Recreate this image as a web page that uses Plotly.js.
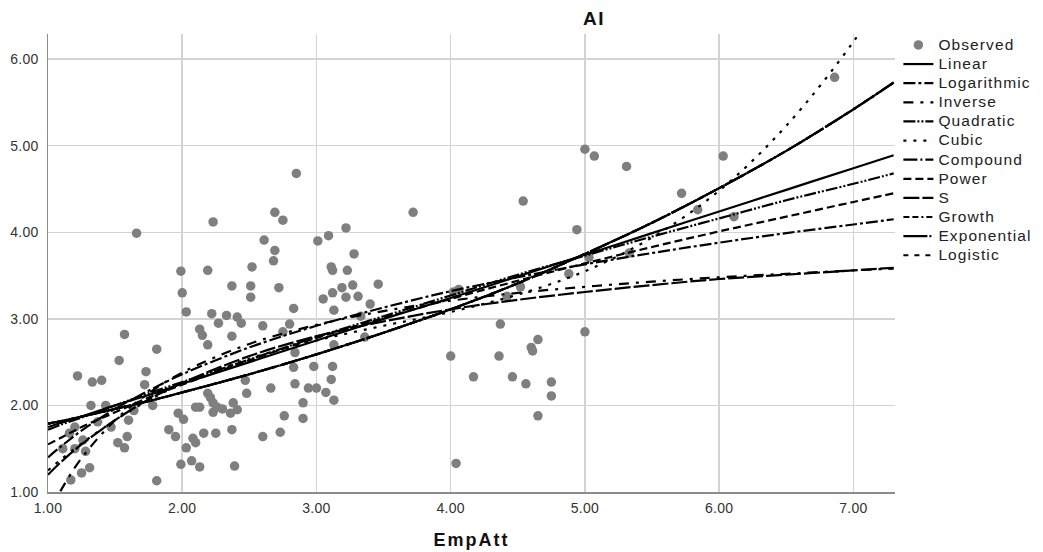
<!DOCTYPE html>
<html>
<head>
<meta charset="utf-8">
<script src="https://cdn.plot.ly/plotly-3.0.1.min.js"></script>
<style>
  html, body { margin: 0; padding: 0; background: #ffffff; }
  #chart { width: 1043px; height: 552px; }
  #chart .legendtext { font-size: 15.5px !important; letter-spacing: 1.1px; }
  #chart .legend .scrollbox, #chart .legend g { clip-path: none !important; }
  #chart .xtick text, #chart .ytick text { letter-spacing: 0.3px; }
  #chart .gtitle { letter-spacing: 1.5px; }
  #chart .xtitle { letter-spacing: 2px; }
</style>
</head>
<body>
<div id="chart"></div>
<script>
// Observed points (EmpAtt, AI)
const obsX = [1.66,1.99,2.00,2.03,1.57,1.81,1.53,1.73,1.22,1.33,1.40,1.72,1.32,1.43,1.78,1.64,1.97,2.01,1.60,1.37,
  1.47,1.20,1.90,1.16,1.59,1.95,1.52,1.26,1.57,1.11,1.20,1.28,2.03,1.99,1.31,1.25,1.17,1.81,
  2.85,2.69,2.75,2.23,2.61,3.01,2.69,2.68,2.19,2.52,2.37,2.51,2.72,2.51,2.83,2.22,2.33,2.41,2.27,2.44,2.60,2.80,
  2.13,2.15,2.37,2.75,2.19,2.84,2.83,2.98,2.47,2.48,2.66,2.84,2.94,3.00,2.90,2.90,2.76,2.73,2.60,2.37,2.25,2.16,
  2.08,2.10,2.07,2.13,2.39,2.10,2.13,2.19,2.21,2.23,2.26,2.30,2.23,2.38,2.41,2.36,
  3.72,3.22,3.09,3.28,3.11,3.12,3.23,3.27,3.46,3.12,3.19,3.22,3.31,3.05,3.40,3.13,3.33,3.36,3.13,3.12,3.11,3.07,3.13,
  5.00,5.07,5.31,6.03,4.54,5.72,5.84,6.11,4.94,4.02,4.06,4.42,4.52,4.88,5.03,5.33,4.37,5.00,4.65,4.60,4.61,4.00,4.36,
  4.17,4.46,4.56,4.75,4.75,4.65,4.04,6.86];
const obsY = [3.99,3.55,3.30,3.08,2.82,2.65,2.52,2.39,2.34,2.27,2.29,2.24,2.00,2.00,2.00,1.94,1.91,1.84,1.83,1.81,
  1.75,1.75,1.72,1.68,1.64,1.64,1.57,1.60,1.51,1.50,1.50,1.47,1.51,1.32,1.28,1.22,1.14,1.13,
  4.68,4.23,4.14,4.12,3.91,3.90,3.79,3.67,3.56,3.60,3.38,3.38,3.36,3.25,3.12,3.06,3.04,3.02,2.95,2.95,2.92,2.94,
  2.88,2.81,2.80,2.85,2.70,2.61,2.44,2.45,2.29,2.14,2.20,2.25,2.20,2.20,2.03,1.85,1.88,1.69,1.64,1.72,1.68,1.68,
  1.62,1.57,1.36,1.29,1.30,1.98,1.98,2.14,2.09,2.03,1.98,1.96,1.92,2.03,1.95,1.91,
  4.23,4.05,3.96,3.75,3.60,3.56,3.56,3.39,3.40,3.30,3.36,3.25,3.26,3.23,3.17,3.10,3.03,2.79,2.70,2.45,2.30,2.15,2.06,
  4.96,4.88,4.76,4.88,4.36,4.45,4.26,4.18,4.03,3.31,3.34,3.26,3.37,3.52,3.71,3.76,2.94,2.85,2.76,2.67,2.63,2.57,2.57,
  2.33,2.33,2.25,2.27,2.11,1.88,1.33,5.79];

// Fitted curves at these EmpAtt values
const fitX        = [1.00,1.10,1.25,1.50,1.75,2.00,2.50,3.00,3.50,4.00,4.50,5.00,5.50,6.00,6.50,7.00,7.30];
const linearY     = [1.75,1.80,1.87,2.00,2.12,2.25,2.50,2.75,3.00,3.24,3.49,3.74,3.99,4.24,4.49,4.74,4.89];
const logarithmicY= [1.40,1.53,1.71,1.96,2.17,2.36,2.67,2.92,3.13,3.32,3.48,3.63,3.76,3.88,3.99,4.09,4.15];
const inverseY    = [0.73,1.03,1.39,1.83,2.14,2.38,2.71,2.93,3.09,3.21,3.30,3.37,3.43,3.48,3.52,3.56,3.58];
const quadraticY  = [1.72,1.78,1.86,2.00,2.14,2.27,2.53,2.79,3.03,3.27,3.51,3.73,3.95,4.16,4.37,4.56,4.68];
const cubicY      = [1.25,1.38,1.56,1.83,2.06,2.25,2.54,2.75,2.92,3.08,3.28,3.55,3.94,4.48,5.23,6.20,6.91];
const compoundY   = [1.79,1.82,1.87,1.96,2.05,2.15,2.36,2.59,2.84,3.11,3.41,3.75,4.11,4.51,4.94,5.42,5.73];
const powerY      = [1.55,1.63,1.75,1.92,2.09,2.24,2.52,2.78,3.01,3.23,3.44,3.64,3.83,4.01,4.18,4.35,4.45];
const sCurveY     = [1.20,1.35,1.55,1.83,2.07,2.26,2.57,2.80,2.97,3.11,3.22,3.31,3.39,3.46,3.51,3.56,3.59];
const growthY     = [1.79,1.82,1.87,1.96,2.05,2.15,2.36,2.59,2.84,3.11,3.41,3.75,4.11,4.51,4.94,5.42,5.73];
const exponentialY= [1.79,1.82,1.87,1.96,2.05,2.15,2.36,2.59,2.84,3.11,3.41,3.75,4.11,4.51,4.94,5.42,5.73];
const logisticY   = [1.79,1.82,1.87,1.96,2.05,2.15,2.36,2.59,2.84,3.11,3.41,3.75,4.11,4.51,4.94,5.42,5.73];

const xTicks = [1,2,3,4,5,6,7];
const xTickLabels = ["1.00","2.00","3.00","4.00","5.00","6.00","7.00"];
const yTicks = [1,2,3,4,5,6];
const yTickLabels = ["1.00","2.00","3.00","4.00","5.00","6.00"];

const FONT = "Arial, 'Liberation Sans', Helvetica, sans-serif";

function fit(name, ys, dash) {
  return {
    type: "scatter", mode: "lines", name: name, x: fitX, y: ys,
    line: { color: "#000000", width: 2.2, dash: dash, shape: "spline" },
    hoverinfo: "skip"
  };
}

const traces = [
  { type: "scatter", mode: "markers", name: "Observed", x: obsX, y: obsY,
    marker: { color: "#7f7f7f", size: 9.5, line: { width: 0 } } },
  fit("Linear", linearY, "solid"),
  fit("Logarithmic", logarithmicY, "12px,3px,3px,3px"),
  fit("Inverse", inverseY, "10px,7px,3px,7px"),
  fit("Quadratic", quadraticY, "12px,2px,2px,2px,2px,2px"),
  fit("Cubic", cubicY, "3px,7px"),
  fit("Compound", compoundY, "14px,3px,2px,3px"),
  fit("Power", powerY, "8px,4px"),
  fit("S", sCurveY, "16px,3px"),
  fit("Growth", growthY, "6px,3px,6px,3px,2px,3px"),
  fit("Exponential", exponentialY, "24px,2px,2px,2px"),
  fit("Logistic", logisticY, "5px,6px")
];

const layout = {
  width: 1043, height: 552,
  margin: { l: 48, r: 148, t: 34, b: 60, pad: 0 },
  paper_bgcolor: "#ffffff", plot_bgcolor: "#ffffff",
  font: { family: FONT, color: "#222222", size: 13 },
  title: { text: "<b>AI</b>", font: { family: FONT, size: 19, color: "#111111" },
           x: 0.6446, xref: "paper", xanchor: "center", y: 0.967, yref: "container", yanchor: "middle" },
  showlegend: true,
  legend: { x: 1.004, xanchor: "left", y: 1.0079, yanchor: "top", bgcolor: "rgba(0,0,0,0)",
            font: { family: FONT, size: 12.4, color: "#222222" }, itemwidth: 30, tracegroupgap: 0 },
  xaxis: {
    range: [1, 7.31], tickvals: xTicks, ticktext: xTickLabels,
    showgrid: true, gridcolor: "#d3d3d3", gridwidth: 1.5,
    showline: true, linecolor: "#8c8c8c", linewidth: 1.5, zeroline: false,
    ticks: "", ticklabelstandoff: 3, tickfont: { family: FONT, size: 14, color: "#333333" },
    title: { text: "<b>EmpAtt</b>", font: { family: FONT, size: 18, color: "#111111" }, standoff: 18 }
  },
  yaxis: {
    range: [1, 6.29], tickvals: yTicks, ticktext: yTickLabels,
    showgrid: true, gridcolor: "#d3d3d3", gridwidth: 1.5,
    showline: true, linecolor: "#8c8c8c", linewidth: 1.5, zeroline: false,
    ticks: "", ticklabelstandoff: 5, tickfont: { family: FONT, size: 14, color: "#333333" }
  }
};

Plotly.newPlot("chart", traces, layout, { displayModeBar: false, staticPlot: true });
</script>
</body>
</html>
